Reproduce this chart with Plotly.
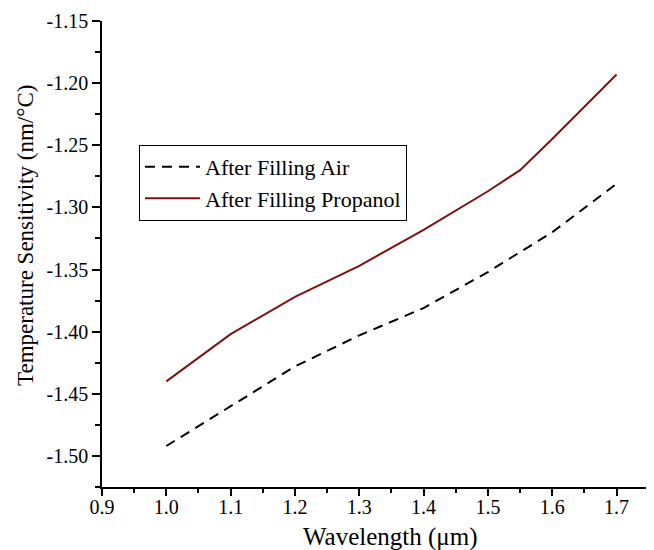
import plotly.graph_objects as go

wavelength_air = [1.0, 1.1, 1.2, 1.3, 1.4, 1.5, 1.6, 1.7]
sens_air = [-1.492, -1.460, -1.428, -1.403, -1.381, -1.352, -1.320, -1.281]

wavelength_prop = [1.0, 1.1, 1.2, 1.3, 1.4, 1.5, 1.55, 1.6, 1.7]
sens_prop = [-1.440, -1.402, -1.372, -1.347, -1.318, -1.287, -1.270, -1.245, -1.193]

x_ticks = [0.9, 1.0, 1.1, 1.2, 1.3, 1.4, 1.5, 1.6, 1.7]
y_ticks = [-1.50, -1.45, -1.40, -1.35, -1.30, -1.25, -1.20, -1.15]

x_title = "Wavelength (μm)"
y_title = "Temperature Sensitivity (nm/°C)"

font_family = "Liberation Serif, Times New Roman, serif"

fig = go.Figure()
fig.add_trace(go.Scatter(x=wavelength_air, y=sens_air, mode="lines",
                         name="After Filling Air",
                         line=dict(color="black", width=2, dash="10px,7px")))
fig.add_trace(go.Scatter(x=wavelength_prop, y=sens_prop, mode="lines",
                         name="After Filling Propanol",
                         line=dict(color="#7c1214", width=2)))

# page body has an 8px default margin, so the figure is offset by 8px
fig.update_layout(
    width=646, height=542,
    paper_bgcolor="white", plot_bgcolor="white",
    margin=dict(l=94, r=4, t=13, b=63),
    font=dict(family=font_family, color="black", size=19),
    legend=dict(x=0.0675, y=0.734, xanchor="left", yanchor="top",
                bordercolor="black", borderwidth=1, bgcolor="white",
                font=dict(size=22, family=font_family), tracegroupgap=0,
                itemwidth=55),
    showlegend=True,
    annotations=[
        dict(text=x_title, xref="paper", yref="paper", x=0.527, y=-0.107,
             xanchor="center", yanchor="middle", showarrow=False,
             font=dict(size=25, family=font_family, color="black")),
        dict(text=y_title, xref="paper", yref="paper", x=-0.1405, y=0.5386,
             xanchor="center", yanchor="middle", showarrow=False, textangle=-90,
             font=dict(size=23, family=font_family, color="black")),
    ],
)
fig.update_xaxes(
    range=[0.9, 1.752], tickvals=x_ticks, ticktext=[f"{v:.1f}" for v in x_ticks],
    showline=True, linecolor="black", linewidth=1.5, ticks="outside",
    ticklen=7, tickwidth=1.5, tickcolor="black", showgrid=False, zeroline=False,
    automargin=False, ticklabelstandoff=-6,
    minor=dict(dtick=0.05, tick0=0.9, ticks="outside", ticklen=4, tickwidth=1.5, tickcolor="black"),
    tickfont=dict(size=20, family=font_family),
)
fig.update_yaxes(
    range=[-1.525, -1.15], tickvals=y_ticks, ticktext=[f"{v:.2f}" for v in y_ticks],
    showline=True, linecolor="black", linewidth=1.5, ticks="outside",
    ticklen=8, tickwidth=1.5, tickcolor="black", showgrid=False, zeroline=False,
    automargin=False,
    minor=dict(dtick=0.025, tick0=-1.5, ticks="outside", ticklen=5, tickwidth=1.5, tickcolor="black"),
    tickfont=dict(size=20, family=font_family),
)

fig.write_html("out.html")
